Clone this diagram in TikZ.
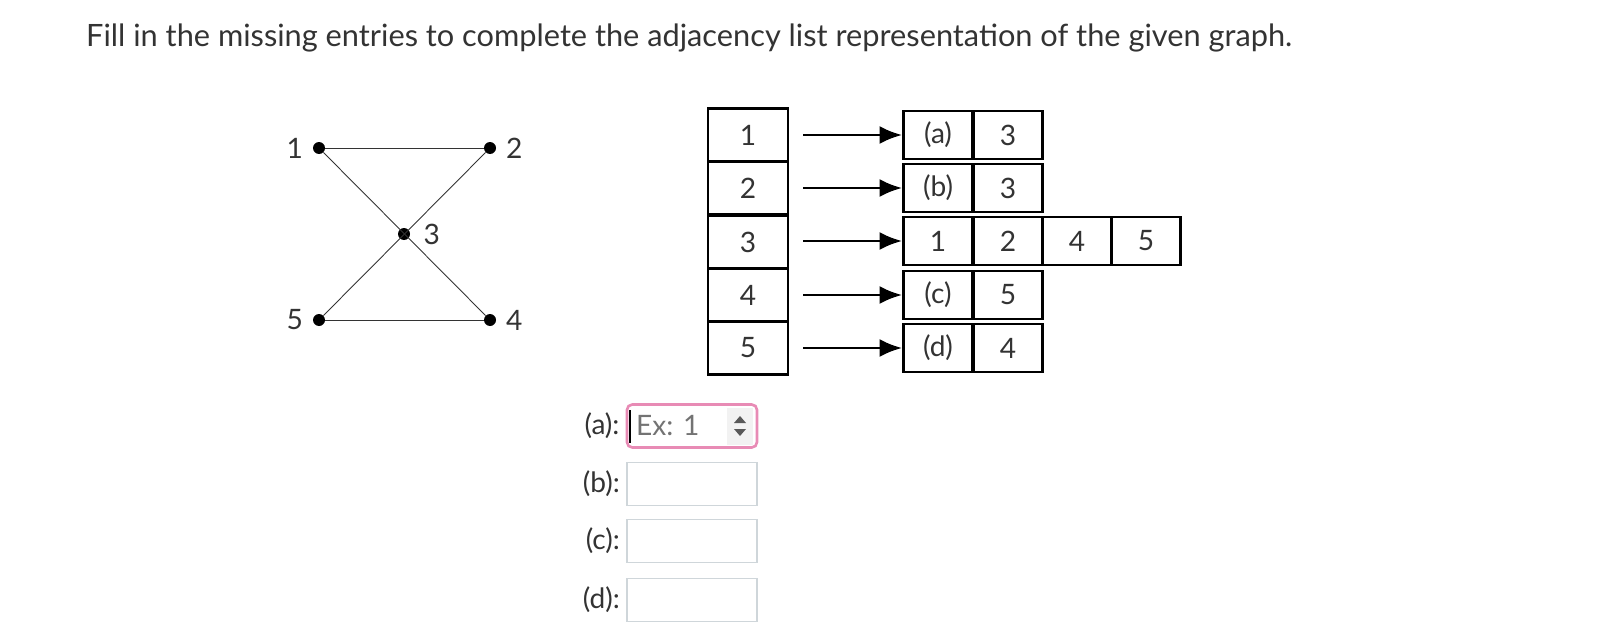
\documentclass[tikz,border=0pt]{standalone}
\usepackage{fontspec}
\setmainfont{Lato}
\usetikzlibrary{positioning}
\usetikzlibrary{arrows.meta}
\definecolor{txt}{HTML}{333333}
\definecolor{pinkb}{HTML}{E88BB5}
\definecolor{grayb}{HTML}{CFD6DA}

\begin{document}
\begin{tikzpicture}[x=0.02cm, y=-0.02cm, font=\fontsize{16}{18}\selectfont, text=txt,
    headcell/.style={rectangle, draw=black, line width=1.6pt, minimum width=1.6cm, minimum height=1.06cm, inner sep=0pt},
    listcell/.style={rectangle, draw=black, line width=1.6pt, minimum width=1.38cm, minimum height=0.96cm, inner sep=0pt},
    vert/.style={circle, fill=black, inner sep=0pt, minimum size=0.24cm},
    edge/.style={draw=black!80, line width=0.5pt},
    ptr/.style={-{Latex[length=0.45cm, width=0.36cm]}, line width=1.6pt},
    answer/.style={rectangle, draw=grayb, line width=1pt, minimum width=2.6cm, minimum height=0.86cm, inner sep=0pt},
    formlabel/.style={anchor=east}]
    \useasboundingbox (0,0) rectangle (1620,632);

    \node (title) [anchor=base west] at (80,47) {\fontsize{17.5}{20}\selectfont Fill in the missing entries to complete the adjacency list representation of the given graph.};

    % graph
    \node (v1) [vert] at (319,148) {};
    \node (v2) [vert] at (490,148) {};
    \node (v3) [vert] at (404,234) {};
    \node (v4) [vert] at (490,320) {};
    \node (v5) [vert] at (319,320) {};
    \node [left = 2pt of v1] {1};
    \node [right = 2pt of v2] {2};
    \node [right = 4pt of v3] {3};
    \node [right = 2pt of v4] {4};
    \node [left = 2pt of v5] {5};
    \draw[edge] (v1) -- (v2);
    \draw[edge] (v5) -- (v4);
    \draw[edge] (v1) -- (v4);
    \draw[edge] (v2) -- (v5);

    % adjacency list
    \foreach \i/\y/\a/\b in {1/135/(a)/3, 2/188/(b)/3, 4/295/(c)/5, 5/348/(d)/4} {
        \node (head\i) [headcell] at (748,\y) {\i};
        \node (first\i) [listcell] at (938,\y) {\a};
        \node (second\i) [listcell] at (1008,\y) {\b};
        \draw[ptr] (803,\y) -- (first\i.west);
    }
    \node (head3) [headcell] at (748,242) {3};
    \foreach \x/\v in {938/1, 1008/2, 1077/4, 1146/5} {
        \node (cell\v) [listcell] at (\x,241) {\v};
    }
    \draw[ptr] (803,241) -- (cell1.west);

    % answer boxes
    \node (boxa) [answer, draw=pinkb, line width=1.5pt, rounded corners=3pt] at (692,426) {};
    \fill[black!5] (727,408) rectangle (753,445);
    \fill[black!65] (734,423) -- (746,423) -- (740,416) -- cycle;
    \fill[black!65] (734,429) -- (746,429) -- (740,436) -- cycle;
    \draw[black, line width=1.2pt] (630,410) -- (630,443);
    \node (hint) [anchor=west, text=black!55] at (630,426) {Ex: 1};
    \node (boxb) [answer] at (692,484) {};
    \node (boxc) [answer] at (692,541) {};
    \node (boxd) [answer] at (692,600) {};
    \node [formlabel] at (boxa.west) {(a):};
    \node [formlabel] at (boxb.west) {(b):};
    \node [formlabel] at (boxc.west) {(c):};
    \node [formlabel] at (boxd.west) {(d):};
\end{tikzpicture}
\end{document}
